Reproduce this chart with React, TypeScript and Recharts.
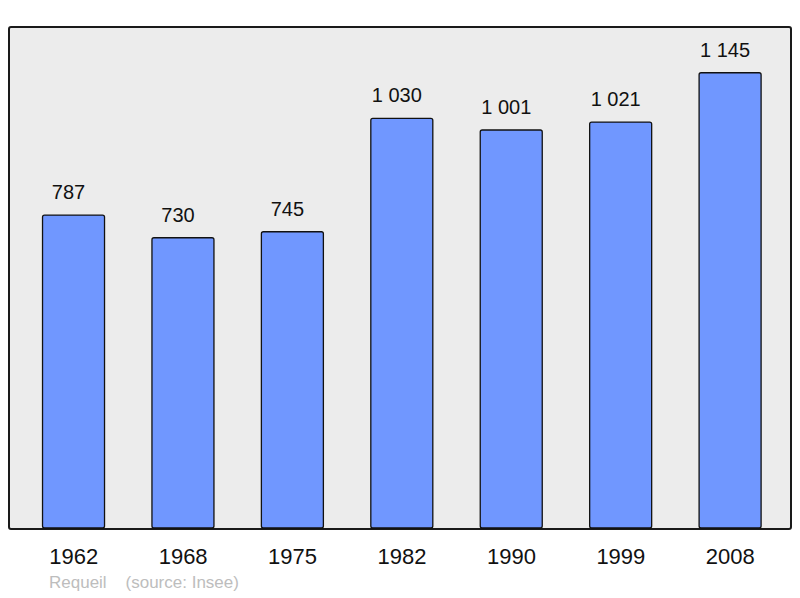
import { BarChart, Bar, XAxis, YAxis, LabelList } from 'recharts';

const YEARS = ['1962', '1968', '1975', '1982', '1990', '1999', '2008'];
const POPULATION = [787, 730, 745, 1030, 1001, 1021, 1145];

const data = YEARS.map((year, i) => ({ year, pop: POPULATION[i] }));

const fmt = (v: number) => v.toLocaleString('en-US').replace(/,/g, ' ');

export default function App() {
  return (
    <div style={{ position: 'absolute', left: 0, top: 0, width: 800, height: 598, background: '#fff' }}>
      <div
        style={{
          position: 'absolute',
          left: 8,
          top: 26,
          width: 780,
          height: 500,
          background: '#ececec',
          border: '2px solid #1a1a1a',
          borderRadius: 3,
        }}
      />
      <div style={{ position: 'absolute', left: 0, top: 0 }}>
        <BarChart
          width={800}
          height={598}
          data={data}
          margin={{ top: 27, right: 15, bottom: 0, left: 19 }}
          barCategoryGap="21.5%"
        >
          <XAxis
            dataKey="year"
            height={70}
            axisLine={false}
            tickLine={false}
            tickMargin={14}
            tick={{ fill: '#111', fontSize: 22, fontFamily: 'Liberation Sans, Arial, sans-serif' }}
          />
          <YAxis hide domain={[0, 1260]} />
          <Bar dataKey="pop" fill="#7097ff" stroke="#111" strokeWidth={1.3} radius={2} isAnimationActive={false}>
            <LabelList
              dataKey="pop"
              position="top"
              offset={16}
              dx={-5}
              formatter={(v: number) => fmt(v)}
              style={{ fill: '#111', fontSize: 20, fontFamily: 'Liberation Sans, Arial, sans-serif' }}
            />
          </Bar>
        </BarChart>
      </div>
      <div
        style={{
          position: 'absolute',
          left: 49,
          top: 573,
          fontSize: 17,
          color: '#bdbdbd',
          fontFamily: 'Liberation Sans, Arial, sans-serif',
          whiteSpace: 'pre',
        }}
      >
        {'Requeil    (source: Insee)'}
      </div>
    </div>
  );
}
